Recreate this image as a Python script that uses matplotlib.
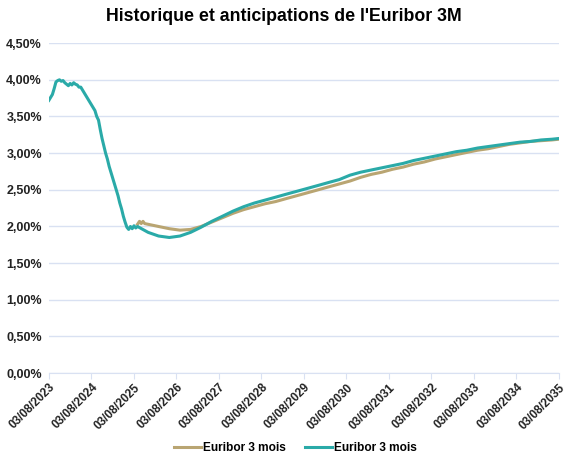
import matplotlib
matplotlib.use("Agg")
import matplotlib.pyplot as plt
import matplotlib.dates as mdates
import pandas as pd

# --- data ---
hist_values = [
    3.72, 3.76, 3.80, 3.88, 3.97, 3.99, 4.00, 3.98, 3.99, 3.96,
    3.94, 3.92, 3.95, 3.93, 3.96, 3.94, 3.93, 3.90, 3.90, 3.86,
    3.82, 3.78, 3.74, 3.70, 3.66, 3.62, 3.58, 3.50, 3.45, 3.32,
    3.20, 3.10, 3.00, 2.92, 2.82, 2.74, 2.66, 2.58, 2.50, 2.42,
    2.32, 2.24, 2.14, 2.06, 1.99, 1.96, 2.00, 1.97, 2.01, 1.98,
    2.00,
]

teal_fc_dates = [
    "2025-12-03", "2026-03-03", "2026-06-03", "2026-09-03", "2026-12-03",
    "2027-03-03", "2027-06-03", "2027-09-03", "2027-12-03", "2028-03-03",
    "2028-06-03", "2028-09-03", "2028-12-03", "2029-03-03", "2029-06-03",
    "2029-09-03", "2029-12-03", "2030-03-03", "2030-06-03", "2030-09-03",
    "2030-12-03", "2031-03-03", "2031-06-03", "2031-09-03", "2031-12-03",
    "2032-03-03", "2032-06-03", "2032-09-03", "2032-12-03", "2033-03-03",
    "2033-06-03", "2033-09-03", "2033-12-03", "2034-03-03", "2034-06-03",
    "2034-09-03", "2034-12-03", "2035-03-03", "2035-06-03", "2035-08-03",
]
teal_fc_values = [
    1.92, 1.87, 1.85, 1.87, 1.92,
    1.99, 2.07, 2.14, 2.21, 2.27,
    2.32, 2.36, 2.40, 2.44, 2.48,
    2.52, 2.56, 2.60, 2.64, 2.70,
    2.74, 2.77, 2.80, 2.83, 2.86,
    2.90, 2.93, 2.96, 2.99, 3.02,
    3.04, 3.07, 3.09, 3.11, 3.13,
    3.15, 3.16, 3.18, 3.19, 3.20,
]

gold_dates = [
    "2025-09-03", "2025-09-20", "2025-10-05", "2025-10-20", "2025-11-03",
    "2025-12-03", "2026-03-03", "2026-06-03", "2026-09-03", "2026-12-03",
    "2027-03-03", "2027-06-03", "2027-09-03", "2027-12-03", "2028-03-03",
    "2028-06-03", "2028-09-03", "2028-12-03", "2029-03-03", "2029-06-03",
    "2029-09-03", "2029-12-03", "2030-03-03", "2030-06-03", "2030-09-03",
    "2030-12-03", "2031-03-03", "2031-06-03", "2031-09-03", "2031-12-03",
    "2032-03-03", "2032-06-03", "2032-09-03", "2032-12-03", "2033-03-03",
    "2033-06-03", "2033-09-03", "2033-12-03", "2034-03-03", "2034-06-03",
    "2034-09-03", "2034-12-03", "2035-03-03", "2035-06-03", "2035-08-03",
]
gold_values = [
    2.03, 2.07, 2.04, 2.07, 2.04,
    2.03, 2.00, 1.97, 1.95, 1.96,
    2.00, 2.06, 2.12, 2.18, 2.23,
    2.27, 2.31, 2.34, 2.38, 2.42,
    2.46, 2.50, 2.54, 2.58, 2.62,
    2.67, 2.71, 2.74, 2.78, 2.81,
    2.85, 2.88, 2.92, 2.95, 2.98,
    3.01, 3.04, 3.06, 3.09, 3.12,
    3.14, 3.16, 3.17, 3.18, 3.19,
]

tick_years = list(range(2023, 2036))
series_label = "Euribor 3 mois"
title = "Historique et anticipations de l'Euribor 3M"

# --- build the series ---
hist_dates = pd.date_range("2023-08-03", "2025-09-03", periods=len(hist_values))
teal_dates = list(hist_dates) + list(pd.to_datetime(teal_fc_dates))
teal_values = hist_values + teal_fc_values
gold_x = pd.to_datetime(gold_dates)

plt.rcParams["font.family"] = ["Liberation Sans", "DejaVu Sans"]
plt.rcParams["font.weight"] = "bold"

fig = plt.figure(figsize=(5.68, 4.59), dpi=100)
ax = fig.add_axes([0.086, 0.187, 0.898, 0.719])

gold_col = "#B9A572"
teal_col = "#2AAAA8"
grid_col = "#D9E1F2"

ax.plot(gold_x, gold_values, color=gold_col, lw=2.2, label=series_label, zorder=3)
ax.plot(teal_dates, teal_values, color=teal_col, lw=2.2, label=series_label, zorder=4)

ax.set_ylim(0, 4.5)
ax.set_yticks([i * 0.5 for i in range(10)])
ax.yaxis.set_major_formatter(
    plt.FuncFormatter(lambda v, p: f"{v:.2f}%".replace(".", ","))
)
ax.grid(axis="y", color=grid_col, lw=1.0)
ax.set_axisbelow(True)

ax.set_xlim(pd.Timestamp("2023-08-03"), pd.Timestamp("2035-08-03"))
ticks = [pd.Timestamp(f"{y}-08-03") for y in tick_years]
ax.set_xticks(ticks)
ax.xaxis.set_major_formatter(mdates.DateFormatter("%d/%m/%Y"))
for lbl in ax.get_xticklabels():
    lbl.set_rotation(45)
    lbl.set_ha("right")
    lbl.set_rotation_mode("anchor")

for side in ["top", "right", "left"]:
    ax.spines[side].set_visible(False)
ax.spines["bottom"].set_color(grid_col)
ax.tick_params(axis="y", length=0, labelsize=9, pad=5, labelcolor="#222222")
ax.tick_params(axis="x", length=4, color=grid_col, labelsize=8.5, pad=2,
               labelcolor="#222222")

fig.suptitle(title, x=0.5, y=0.982, fontsize=12.8, fontweight="bold")

fig.legend(loc="lower center", bbox_to_anchor=(0.52, -0.012), ncol=2, frameon=False,
           fontsize=8.6, handlelength=2.3, handletextpad=0.15, columnspacing=1.6)

fig.savefig("out.png", dpi=100)
